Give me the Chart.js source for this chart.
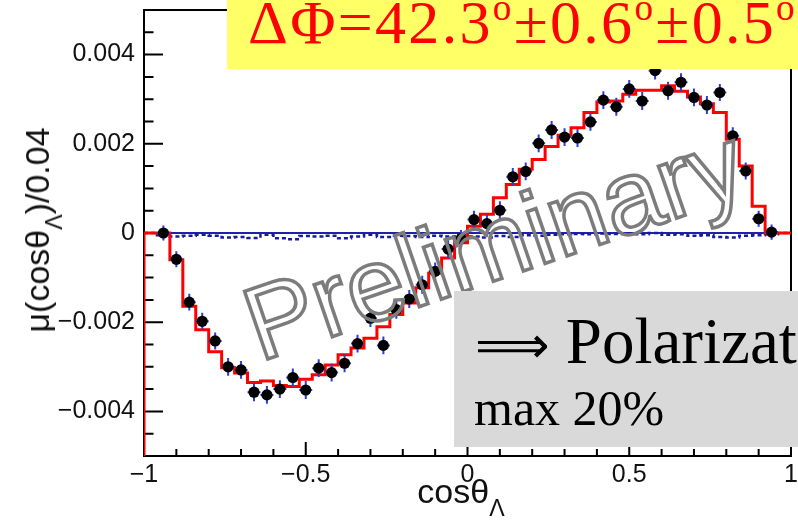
<!DOCTYPE html>
<html>
<head>
<meta charset="utf-8">
<script src="https://cdn.jsdelivr.net/npm/chart.js@4.4.1/dist/chart.umd.min.js"></script>
<style>
  html, body { margin: 0; padding: 0; background: #fff; }
  #stage { position: relative; width: 798px; height: 530px; overflow: hidden; }
  #plot { position: absolute; left: 0; top: 0; }
  .axis-title { position: absolute; font-family: "Liberation Sans", Arial, sans-serif; font-size: 34px; line-height: 1; white-space: nowrap; color: #111; }
  .axis-title .sub { position: relative; top: 0.55em; font-size: 0.68em; }
  #ytitle { left: 37px; top: 230px; transform: translate(-50%, -50%) rotate(-90deg); }
  #xtitle { left: 461px; top: 474px; transform: translateX(-50%); }
  #watermark { position: absolute; left: 494px; top: 243px; transform: translate(-50%, -50%) rotate(-19deg);
    font-family: "Liberation Sans", Arial, sans-serif; font-size: 104px; line-height: 1; white-space: nowrap;
    color: transparent; -webkit-text-stroke: 3.5px #7c7c7c; }
  #graybox { position: absolute; left: 454px; top: 291px; width: 400px; height: 156px; background: #d9d9d9; }
  #yellowbox { position: absolute; left: 227px; top: 0; width: 600px; height: 69px; background: #ffff66; }
  .serif { position: absolute; font-family: "Liberation Serif", "Times New Roman", serif; line-height: 1; white-space: nowrap; }
  #phase { left: 21px; top: -9px; font-size: 62px; letter-spacing: 2.3px; color: #ff0000; }
  #phase sup { font-size: 0.6em; vertical-align: 0; position: relative; top: -0.62em; }
  #pol { left: 21px; top: 18px; font-size: 65px; color: #000; }
  #pol .arrow { font-family: "DejaVu Sans", sans-serif; font-size: 52px; }
  #maxpol { left: 20px; top: 92px; font-size: 50px; color: #000; }
</style>
</head>
<body>
<div id="stage">
  <canvas id="plot" width="798" height="530"></canvas>
  <div class="axis-title" id="ytitle">μ(cosθ<span class="sub">Λ</span>)/0.04</div>
  <div class="axis-title" id="xtitle">cosθ<span class="sub">Λ</span></div>
  <div id="watermark">Preliminary</div>
  <div id="graybox">
    <div class="serif" id="pol"><span class="arrow">⟹</span> Polarization</div>
    <div class="serif" id="maxpol">max 20%</div>
  </div>
  <div id="yellowbox">
    <div class="serif" id="phase">ΔΦ=42.3<sup>o</sup>±0.6<sup>o</sup>±0.5<sup>o</sup></div>
  </div>
</div>
<script>
/* ── Data ────────────────────────────────────────────── */

const BIN_CENTERS = [
  -0.98, -0.94, -0.90, -0.86, -0.82, -0.78, -0.74, -0.70, -0.66, -0.62,
  -0.58, -0.54, -0.50, -0.46, -0.42, -0.38, -0.34, -0.30, -0.26, -0.22,
  -0.18, -0.14, -0.10, -0.06, -0.02,  0.02,  0.06,  0.10,  0.14,  0.18,
   0.22,  0.26,  0.30,  0.34,  0.38,  0.42,  0.46,  0.50,  0.54,  0.58,
   0.62,  0.66,  0.70,  0.74,  0.78,  0.82,  0.86,  0.90,  0.94,  0.98
];
const BIN_WIDTH = 0.04;

// measured points (black markers)
const DATA_MU = [
  null, 0.00000, -0.00059, -0.00155, -0.00198, -0.00242, -0.00300, -0.00307, -0.00357, -0.00363,
  -0.00350, -0.00324, -0.00352, -0.00303, -0.00313, -0.00292, -0.00248, -0.00191, -0.00252, -0.00172,
  -0.00148, -0.00116, -0.00086, -0.00036, -0.00013, 0.00030, 0.00021, 0.00051, 0.00126, 0.00138,
  0.00201, 0.00231, 0.00215, 0.00213, 0.00249, 0.00298, 0.00283, 0.00323, 0.00296, 0.00364,
  0.00319, 0.00338, 0.00304, 0.00287, 0.00315, 0.00218, 0.00139, 0.00032, 0.00002, null
];
const DATA_ERR = [
  0, 0.00017, 0.00018, 0.00019, 0.00019, 0.00019, 0.00020, 0.00020, 0.00020, 0.00020,
  0.00020, 0.00020, 0.00020, 0.00020, 0.00020, 0.00020, 0.00020, 0.00020, 0.00020, 0.00020,
  0.00020, 0.00020, 0.00020, 0.00020, 0.00020, 0.00020, 0.00020, 0.00020, 0.00020, 0.00020,
  0.00020, 0.00020, 0.00020, 0.00020, 0.00020, 0.00020, 0.00020, 0.00020, 0.00020, 0.00020,
  0.00020, 0.00020, 0.00020, 0.00020, 0.00019, 0.00019, 0.00019, 0.00018, 0.00017, 0
];

// fit histogram (red)
const FIT_MU = [
  0, 0, -0.00060, -0.00164, -0.00217, -0.00266, -0.00302, -0.00314, -0.00335, -0.00332,
  -0.00342, -0.00344, -0.00328, -0.00318, -0.00296, -0.00273, -0.00258, -0.00236, -0.00210, -0.00183,
  -0.00157, -0.00123, -0.00090, -0.00056, -0.00022, 0.00015, 0.00042, 0.00079, 0.00109, 0.00143,
  0.00165, 0.00194, 0.00219, 0.00236, 0.00270, 0.00294, 0.00296, 0.00311, 0.00320, 0.00320,
  0.00330, 0.00318, 0.00305, 0.00290, 0.00270, 0.00210, 0.00150, 0.00060, 0, 0
];

// background estimate (blue dashed)
const BKG_MU = [
  0, -0.00005, -0.00008, -0.00006, -0.00004, -0.00006, -0.00010, -0.00009, -0.00011, -0.00004,
  -0.00012, -0.00014, -0.00007, -0.00008, -0.00006, -0.00012, -0.00008, -0.00004, -0.00009, -0.00006,
  -0.00007, -0.00009, -0.00006, -0.00008, -0.00003, -0.00008, -0.00010, -0.00007, -0.00009, -0.00005,
  -0.00006, -0.00004, -0.00003, -0.00002, -0.00003, -0.00001, -0.00002, -0.00002, -0.00003, 0,
  -0.00004, -0.00003, -0.00006, -0.00005, -0.00009, -0.00010, -0.00006, -0.00005, -0.00003, 0
];

// reference level (blue solid)
const REF_MU = [0, 0];

const X_RANGE = [-1, 1];
const Y_RANGE = [-0.005, 0.005];
const X_MAJOR = [-1, -0.5, 0, 0.5, 1];
const X_MINOR_STEP = 0.1;
const Y_MAJOR = [-0.004, -0.002, 0, 0.002, 0.004];
const Y_MINOR_STEP = 0.0005;

const FONT = "'Liberation Sans', Arial, sans-serif";

// ── helpers ──────────────────────────────────────────

const isMajor = (v, majors) => majors.some((m) => Math.abs(m - v) < 1e-9);
const fmt = (v) => (Math.abs(v) < 1e-12 ? "0" : String(+v.toPrecision(6)).replace("-", "\u2212"));

function minorTicks(range, step) {
  const n = Math.round((range[1] - range[0]) / step);
  const out = [];
  for (let k = 0; k <= n; k++) out.push({ value: range[0] + k * step });
  return out;
}

// histogram outline drawn as a step line from bin edges
function histSteps(values, fromFloor) {
  const pts = [];
  const left = BIN_CENTERS[0] - BIN_WIDTH / 2;
  if (fromFloor) pts.push({ x: left, y: Y_RANGE[0] });
  values.forEach((v, i) => pts.push({ x: BIN_CENTERS[i] - BIN_WIDTH / 2, y: v }));
  const last = values.length - 1;
  pts.push({ x: BIN_CENTERS[last] + BIN_WIDTH / 2, y: values[last] });
  return pts;
}

// ROOT-like frame: no outer padding from the tick labels
function noEdgePadding(s) {
  s.paddingTop = 0;
  s.paddingBottom = 0;
  s.paddingLeft = 0;
  s.paddingRight = 0;
}

// ── plugins ──────────────────────────────────────────

const rootFrame = {
  id: "rootFrame",
  beforeDatasetsDraw(chart) {
    const { ctx, chartArea: a, scales: { x, y } } = chart;
    ctx.save();
    ctx.strokeStyle = "#000";
    ctx.lineWidth = 2;
    ctx.strokeRect(a.left, a.top, a.right - a.left, a.bottom - a.top);
    ctx.beginPath();
    x.ticks.forEach((t) => {
      const px = x.getPixelForValue(t.value);
      const len = isMajor(t.value, X_MAJOR) ? 14 : 7;
      ctx.moveTo(px, a.bottom);
      ctx.lineTo(px, a.bottom - len);
    });
    y.ticks.forEach((t) => {
      const py = y.getPixelForValue(t.value);
      const len = isMajor(t.value, Y_MAJOR) ? 19 : 9.5;
      ctx.moveTo(a.left, py);
      ctx.lineTo(a.left + len, py);
    });
    ctx.stroke();
    ctx.restore();
  },
};

const errorBars = {
  id: "errorBars",
  beforeDatasetDraw(chart, args) {
    if (args.index !== 0) return;
    const { ctx, scales: { x, y } } = chart;
    ctx.save();
    ctx.strokeStyle = "#2a3ee0";
    ctx.lineWidth = 2;
    ctx.beginPath();
    BIN_CENTERS.forEach((c, i) => {
      const v = DATA_MU[i];
      if (v === null) return;
      const px = x.getPixelForValue(c);
      const py = y.getPixelForValue(v);
      ctx.moveTo(px, y.getPixelForValue(v - DATA_ERR[i]));
      ctx.lineTo(px, y.getPixelForValue(v + DATA_ERR[i]));
      ctx.moveTo(x.getPixelForValue(c - BIN_WIDTH / 2), py);
      ctx.lineTo(x.getPixelForValue(c + BIN_WIDTH / 2), py);
    });
    ctx.stroke();
    ctx.restore();
  },
};

// ── chart ────────────────────────────────────────────

const points = BIN_CENTERS
  .map((c, i) => ({ x: c, y: DATA_MU[i] }))
  .filter((p) => p.y !== null);

new Chart(document.getElementById("plot").getContext("2d"), {
  type: "scatter",
  data: {
    datasets: [
      {
        label: "data",
        data: points,
        order: 0,
        pointStyle: "circle",
        pointRadius: 5.6,
        backgroundColor: "#000",
        borderColor: "#000",
        borderWidth: 0,
        showLine: false,
      },
      {
        label: "fit",
        data: histSteps(FIT_MU, true),
        order: 1,
        showLine: true,
        stepped: "before",
        borderColor: "#ff0000",
        borderWidth: 3,
        pointRadius: 0,
      },
      {
        label: "background",
        data: histSteps(BKG_MU, false),
        order: 2,
        showLine: true,
        stepped: "before",
        borderColor: "#1a1aa0",
        borderWidth: 2.5,
        borderDash: [4, 3],
        pointRadius: 0,
      },
      {
        label: "reference",
        data: [{ x: X_RANGE[0], y: REF_MU[0] }, { x: X_RANGE[1], y: REF_MU[1] }],
        order: 3,
        showLine: true,
        borderColor: "#2020a8",
        borderWidth: 2,
        pointRadius: 0,
      },
    ],
  },
  options: {
    responsive: false,
    animation: false,
    events: [],
    layout: { padding: { top: 10, right: 7, left: 0, bottom: 0 } },
    plugins: { legend: { display: false }, tooltip: { enabled: false } },
    scales: {
      x: {
        type: "linear",
        min: X_RANGE[0],
        max: X_RANGE[1],
        afterBuildTicks: (s) => { s.ticks = minorTicks(X_RANGE, X_MINOR_STEP); },
        afterFit: (s) => { s.height = 74; noEdgePadding(s); },
        grid: { display: false, drawTicks: false },
        border: { display: false },
        ticks: {
          autoSkip: false,
          maxRotation: 0,
          padding: 4,
          color: "#111",
          font: { family: FONT, size: 25 },
          callback: (v) => (isMajor(v, X_MAJOR) ? fmt(v) : ""),
        },
      },
      y: {
        type: "linear",
        min: Y_RANGE[0],
        max: Y_RANGE[1],
        afterBuildTicks: (s) => { s.ticks = minorTicks(Y_RANGE, Y_MINOR_STEP); },
        afterFit: (s) => { s.width = 144; noEdgePadding(s); },
        grid: { display: false, drawTicks: false },
        border: { display: false },
        ticks: {
          autoSkip: false,
          padding: 9,
          color: "#111",
          font: { family: FONT, size: 25 },
          callback: (v) => (isMajor(v, Y_MAJOR) ? fmt(v) : ""),
        },
      },
    },
  },
  plugins: [rootFrame, errorBars],
});
</script>
</body>
</html>
